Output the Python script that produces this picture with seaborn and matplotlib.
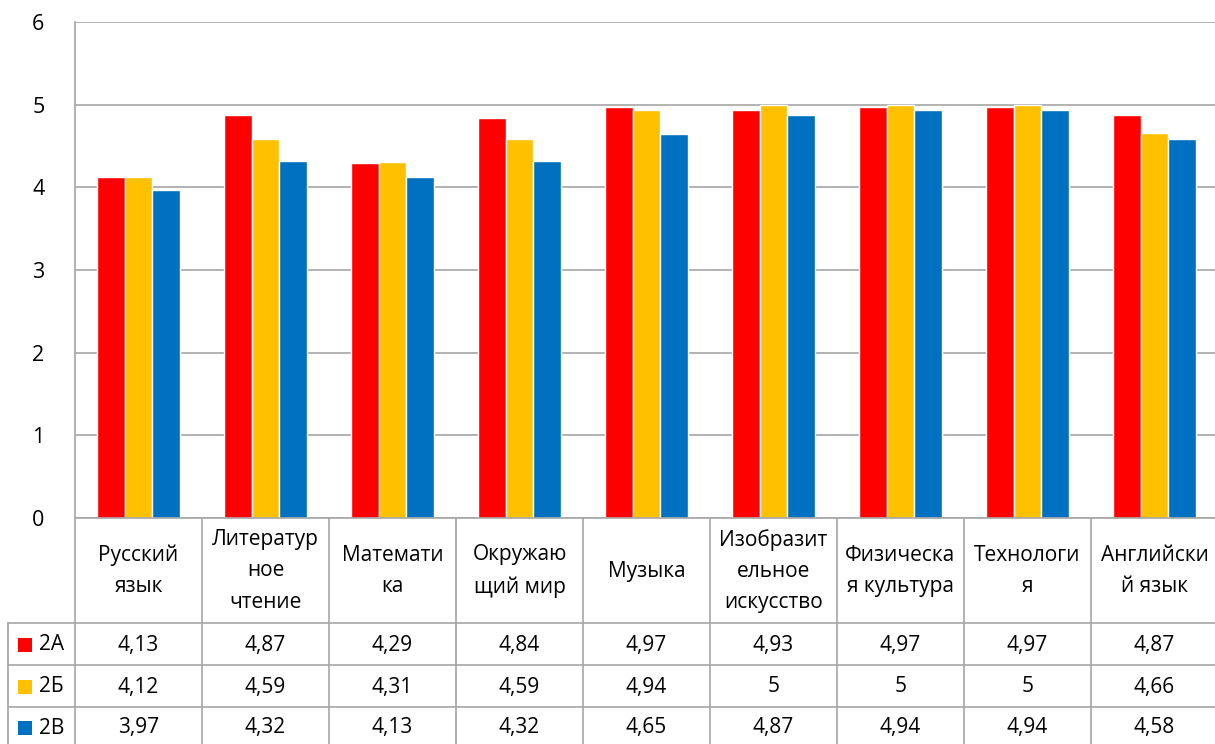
import pandas as pd
import matplotlib.pyplot as plt
import seaborn as sns
from matplotlib.lines import Line2D
from matplotlib.patches import Rectangle

subjects = ["Русский\nязык", "Литератур\nное\nчтение", "Математи\nка", "Окружаю\nщий мир",
            "Музыка", "Изобразит\nельное\nискусство", "Физическа\nя культура", "Технологи\nя",
            "Английски\nй язык"]
classes = ["2А", "2Б", "2В"]
vals_2a = [4.13, 4.87, 4.29, 4.84, 4.97, 4.93, 4.97, 4.97, 4.87]
vals_2b = [4.12, 4.59, 4.31, 4.59, 4.94, 5, 5, 5, 4.66]
vals_2v = [3.97, 4.32, 4.13, 4.32, 4.65, 4.87, 4.94, 4.94, 4.58]
colors = ["#FF0000", "#FFC000", "#0070C0"]

rows = []
for cls, vals in zip(classes, [vals_2a, vals_2b, vals_2v]):
    for s, v in zip(subjects, vals):
        rows.append({"subject": s, "class": cls, "value": v})
df = pd.DataFrame(rows)

sns.set_style("white")
plt.rcParams['font.family'] = ['Open Sans', 'DejaVu Sans']

W, H = 1215, 744
fig = plt.figure(figsize=(W / 100, H / 100), dpi=100)
# plot area in pixels: x 75..1218, y 22..518
x0, x1, y_top, y_bot = 75, 1218, 22, 518
ax = fig.add_axes([x0 / W, 1 - y_bot / H, (x1 - x0) / W, (y_bot - y_top) / H])

sns.barplot(data=df, x="subject", y="value", hue="class", palette=colors,
            width=0.66, gap=0, ax=ax, legend=False, saturation=1)

ax.set_ylim(0, 6)
ax.set_xlim(-0.5, len(subjects) - 0.5)
ax.set_yticks(range(7))
ax.tick_params(axis='y', labelsize=15.5, length=0, pad=22, labelcolor="#000000")
ax.set_xticks([])
ax.set_xlabel("")
ax.set_ylabel("")
ax.yaxis.grid(True, color="#A6A6A6", linewidth=1.2)
ax.set_axisbelow(True)
for side in ["top", "right", "bottom"]:
    ax.spines[side].set_visible(False)
ax.spines["left"].set_color("#A6A6A6")
ax.spines["left"].set_linewidth(1.2)

# data table under the chart
def fx(px):
    return px / W

def fy(py):
    return 1 - py / H

line_kw = dict(color="#A6A6A6", linewidth=1.2, transform=fig.transFigure)
col_w = (x1 - x0) / len(subjects)
row_y = [518, 623, 665, 707, 749]
fs = 15

# horizontal lines
fig.add_artist(Line2D([fx(x0), fx(x1)], [fy(518), fy(518)], **line_kw))
for y in row_y[1:]:
    fig.add_artist(Line2D([fx(8), fx(x1)], [fy(y), fy(y)], **line_kw))
# vertical lines
for k in range(len(subjects) + 1):
    xx = x0 + k * col_w
    fig.add_artist(Line2D([fx(xx), fx(xx)], [fy(518), fy(749)], **line_kw))
fig.add_artist(Line2D([fx(8), fx(8)], [fy(623), fy(749)], **line_kw))

# header texts
for k, s in enumerate(subjects):
    cx = x0 + (k + 0.5) * col_w
    fig.text(fx(cx), fy(571), s, ha="center", va="center", fontsize=fs,
             linespacing=1.65, color="#000000")

# value rows
for r, (cls, vals, c) in enumerate(zip(classes, [vals_2a, vals_2b, vals_2v], colors)):
    cy = [645, 687, 728][r]
    fig.add_artist(Rectangle((fx(18), fy(cy) - 7 / H), 14 / W, 14 / H,
                             facecolor=c, edgecolor="none", transform=fig.transFigure))
    fig.text(fx(39), fy(cy), cls, ha="left", va="center", fontsize=fs, color="#000000")
    for k, v in enumerate(vals):
        cx = x0 + (k + 0.5) * col_w
        txt = f"{v:g}".replace(".", ",")
        fig.text(fx(cx), fy(cy), txt, ha="center", va="center", fontsize=fs,
                 color="#000000")

fig.savefig("out.png", dpi=100)
